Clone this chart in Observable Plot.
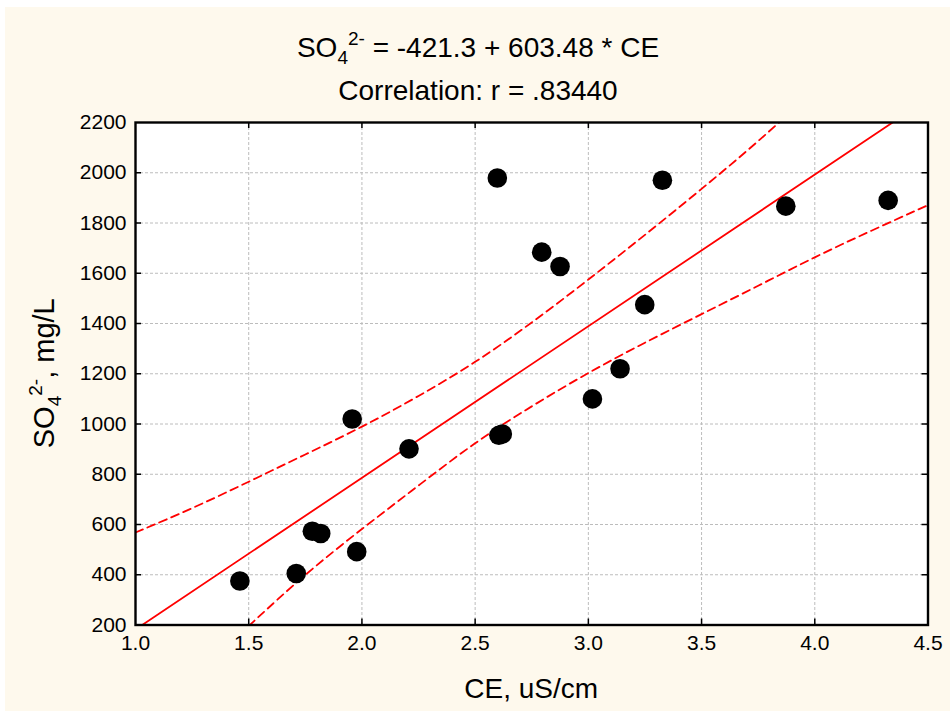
<!DOCTYPE html>
<html>
<head>
<meta charset="utf-8">
<script src="https://cdn.jsdelivr.net/npm/d3@7"></script>
<script src="https://cdn.jsdelivr.net/npm/@observablehq/plot@0.6"></script>
<style>
  html, body { margin: 0; padding: 0; background: #ffffff; overflow: hidden; }
  #wrap { position: absolute; left: 5px; top: 7px; width: 945px; height: 704px; background: #fef9ed; }
  #wrap svg { display: block; }
</style>
</head>
<body>
<div id="wrap"></div>
<script>
// ---- data ----
const ceValues  = [1.461, 1.710, 1.781, 1.818, 1.977, 1.957, 2.208, 2.605, 2.620, 2.598, 3.327, 2.794, 2.875, 3.872, 4.324, 3.249, 3.140, 3.018];
const so4Values = [375,   405,   573,   564,   492,   1020,  901,   955,   960,   1979,  1970,  1684,  1627,  1867,  1890,  1475,  1220,  1100];

// regression (from the chart title)
const intercept = -421.3;
const slope = 603.48;
const regX = [1.0, 4.5];

// 95% confidence band
const upperX = [1.0, 1.25, 1.5, 1.75, 2.0, 2.25, 2.5, 2.75, 3.0, 3.25, 3.5, 3.75, 4.0];
const upperY = [568, 663, 770, 879, 987, 1110, 1243, 1402, 1574, 1752, 1935, 2123, 2330];
const lowerX = [1.5, 1.75, 2.0, 2.25, 2.5, 2.75, 3.0, 3.25, 3.5, 3.75, 4.0, 4.25, 4.5];
const lowerY = [196, 404, 583, 755, 928, 1072, 1205, 1325, 1437, 1550, 1665, 1770, 1871];

// axes
const xTicks = [1.0, 1.5, 2.0, 2.5, 3.0, 3.5, 4.0, 4.5];
const xTickLabels = ["1.0", "1.5", "2.0", "2.5", "3.0", "3.5", "4.0", "4.5"];
const yTicks = [200, 400, 600, 800, 1000, 1200, 1400, 1600, 1800, 2000, 2200];
const yTickLabels = ["200", "400", "600", "800", "1000", "1200", "1400", "1600", "1800", "2000", "2200"];
const xInner = xTicks.slice(1, -1);
const yInner = yTicks.slice(1, -1);

const titleLine2 = "Correlation: r = .83440";
const xLabel = "CE, uS/cm";

// ---- build tables ----
const points = ceValues.map((x, i) => ({x, y: so4Values[i]}));
const regLine = regX.map(x => ({x, y: intercept + slope * x}));
const upper = upperX.map((x, i) => ({x, y: upperY[i]}));
const lower = lowerX.map((x, i) => ({x, y: lowerY[i]}));

const W = 945, H = 704;
const mL = 130, mR = 22.5, mT = 115, mB = 86.5;
const innerW = W - mL - mR, innerH = H - mT - mB;
const tick = 6;
const red = "#ff0000";

const chart = Plot.plot({
  width: W, height: H,
  marginLeft: mL, marginRight: mR, marginTop: mT, marginBottom: mB,
  style: {background: "transparent", fontFamily: "'Liberation Sans', Arial, sans-serif", fontSize: "21px", color: "#000", overflow: "visible"},
  x: {domain: [1, 4.5]},
  y: {domain: [200, 2200]},
  marks: [
    Plot.frame({fill: "#ffffff", stroke: "none"}),
    Plot.ruleX(xInner, {stroke: "#bcbcbc", strokeDasharray: "3,2", strokeWidth: 1}),
    Plot.ruleY(yInner, {stroke: "#bcbcbc", strokeDasharray: "3,2", strokeWidth: 1}),
    Plot.line(regLine, {x: "x", y: "y", stroke: red, strokeWidth: 1.8, clip: true}),
    Plot.line(upper, {x: "x", y: "y", stroke: red, strokeWidth: 1.8, strokeDasharray: "8,5", curve: "basis", clip: true}),
    Plot.line(lower, {x: "x", y: "y", stroke: red, strokeWidth: 1.8, strokeDasharray: "8,5", curve: "basis", clip: true}),
    Plot.dot(points, {x: "x", y: "y", r: 9.8, fill: "#000", stroke: "none"}),
    Plot.tickX(xInner, {x: d => d, insetTop: innerH - tick, stroke: "#000", strokeWidth: 1.5}),
    Plot.tickX(xInner, {x: d => d, insetBottom: innerH - tick, stroke: "#000", strokeWidth: 1.5}),
    Plot.tickY(yInner, {y: d => d, insetLeft: innerW - tick, stroke: "#000", strokeWidth: 1.5}),
    Plot.tickY(yInner, {y: d => d, insetRight: innerW - tick, stroke: "#000", strokeWidth: 1.5}),
    Plot.frame({stroke: "#000", strokeWidth: 2.4, fill: "none"}),
    Plot.axisX(xTicks, {tickSize: 0, tickPadding: 10, tickFormat: d => xTickLabels[xTicks.indexOf(d)], label: null}),
    Plot.axisY(yTicks, {tickSize: 0, tickPadding: 9, tickFormat: d => yTickLabels[yTicks.indexOf(d)], label: null})
  ]
});

document.getElementById("wrap").appendChild(chart);

const svg = d3.select(chart);
const ff = "'Liberation Sans', Arial, sans-serif";

// enlarge tick labels
svg.selectAll('g[aria-label$="tick label"]').attr("font-size", 21).style("font-size", "21px");
svg.selectAll('g[aria-label$="tick label"] text').style("font-size", "21px");

// ---- titles and axis labels with sub/superscripts ----
function so4(textSel, rest) {
  textSel.append("tspan").text("SO");
  textSel.append("tspan").attr("dy", 7).style("font-size", "19px").text("4");
  textSel.append("tspan").attr("dy", -19).style("font-size", "19px").text("2-");
  textSel.append("tspan").attr("dy", 12).text(rest);
}

const t1 = svg.append("text")
  .attr("x", 473).attr("y", 49.7)
  .attr("text-anchor", "middle")
  .style("font-family", ff).style("font-size", "28px").attr("fill", "#000");
so4(t1, " = -421.3 + 603.48 * CE");

svg.append("text")
  .attr("x", 473).attr("y", 93)
  .attr("text-anchor", "middle")
  .style("font-family", ff).style("font-size", "28px").attr("fill", "#000")
  .text(titleLine2);

svg.append("text")
  .attr("x", mL + innerW / 2).attr("y", 691)
  .attr("text-anchor", "middle")
  .style("font-family", ff).style("font-size", "28px").attr("fill", "#000")
  .text(xLabel);

const yl = svg.append("text")
  .attr("transform", `translate(49, ${mT + innerH / 2}) rotate(-90)`)
  .attr("text-anchor", "middle")
  .style("font-family", ff).style("font-size", "29px").attr("fill", "#000");
so4(yl, ", mg/L");
</script>
</body>
</html>
